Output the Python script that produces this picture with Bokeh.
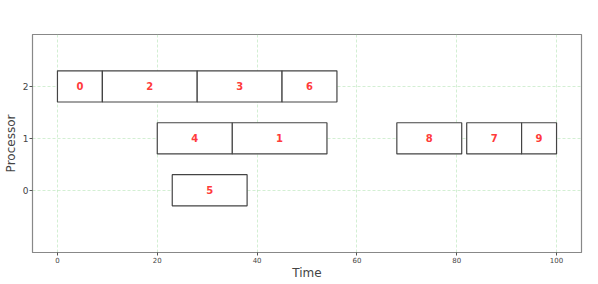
from bokeh.plotting import figure
from bokeh.models import ColumnDataSource, FixedTicker, Range1d
from bokeh.core.properties import value
from bokeh.embed import file_html
from bokeh.resources import INLINE

tasks = ["0", "1", "2", "3", "4", "5", "6", "7", "8", "9"]
processor = [2, 1, 2, 2, 1, 0, 2, 1, 1, 1]
start = [0, 35, 9, 28, 20, 23, 45, 82, 68, 93]
end = [9, 54, 28, 45, 35, 38, 56, 93, 81, 100]
x_ticks = [0, 20, 40, 60, 80, 100]
y_ticks = [0, 1, 2]

half = 0.3
src = ColumnDataSource(dict(
    task=tasks,
    left=start,
    right=end,
    bottom=[p_ - half for p_ in processor],
    top=[p_ + half for p_ in processor],
    xc=[(s + e) / 2 for s, e in zip(start, end)],
    yc=processor,
))

p = figure(output_backend="svg", toolbar_location=None,
           frame_width=549, frame_height=218,
           x_range=Range1d(-5, 105), y_range=Range1d(-1.2, 3.0),
           min_border_left=31, min_border_right=8,
           min_border_top=34, min_border_bottom=24)

p.quad(left="left", right="right", bottom="bottom", top="top", source=src,
       fill_color="white", line_color="#444444", line_width=1.2)
p.text(x="xc", y="yc", text="task", source=src,
       text_color="#ff3b3b", text_font=value("DejaVu Sans"),
       text_font_style="bold", text_font_size="10px",
       text_align="center", text_baseline="middle")

p.xaxis.ticker = FixedTicker(ticks=x_ticks)
p.yaxis.ticker = FixedTicker(ticks=y_ticks)
p.xaxis.axis_label = "Time"
p.yaxis.axis_label = "Processor"
for ax in (p.xaxis, p.yaxis):
    ax.axis_label_text_font = "DejaVu Sans"
    ax.axis_label_text_font_style = "normal"
    ax.axis_label_text_font_size = "12px"
    ax.major_label_text_font = "DejaVu Sans"
    ax.minor_tick_line_color = None
    ax.axis_line_color = "#888888"
    ax.major_tick_line_color = "#555555"
    ax.major_tick_out = 3
    ax.major_tick_in = 0
    ax.axis_label_standoff = 2
    ax.major_label_standoff = 1
p.xaxis.major_label_text_font_size = "7px"
p.yaxis.major_label_text_font_size = "9px"
p.xaxis.axis_label_standoff = 0

p.grid.grid_line_color = "#a8e0a8"
p.grid.grid_line_alpha = 0.5
p.grid.grid_line_dash = "3 2"
p.outline_line_color = "#888888"
p.outline_line_width = 1.2

open("out.html", "w").write(file_html(p, INLINE))
